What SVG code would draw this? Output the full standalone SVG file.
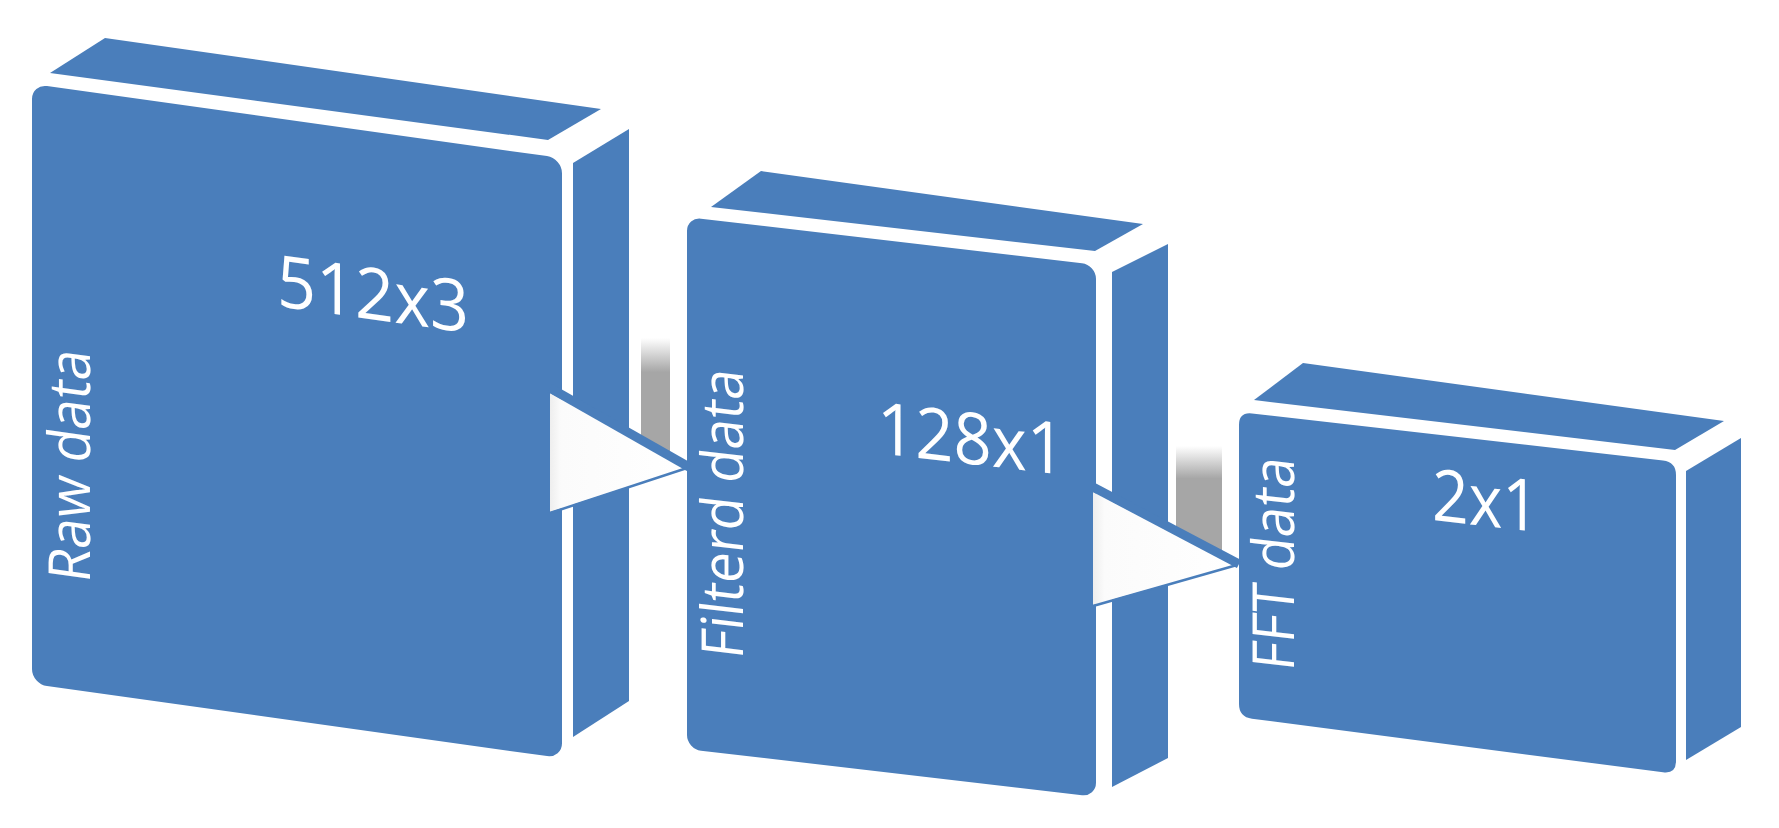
<svg xmlns="http://www.w3.org/2000/svg" width="1779" height="828" viewBox="0 0 1779 828">
  <defs>
    <linearGradient id="shade" x1="0" y1="0" x2="0" y2="1">
      <stop offset="0" stop-color="#a6a6a6" stop-opacity="0"/>
      <stop offset="0.28" stop-color="#a6a6a6" stop-opacity="1"/>
      <stop offset="1" stop-color="#a6a6a6" stop-opacity="1"/>
    </linearGradient>
    <linearGradient id="triFill" x1="0" y1="0" x2="1" y2="0">
      <stop offset="0" stop-color="#eeeeee"/>
      <stop offset="0.08" stop-color="#fbfbfb"/>
      <stop offset="1" stop-color="#ffffff"/>
    </linearGradient>
  </defs>
  <style>
    .face { fill: #4a7ebb; }
    .lbl { fill: #ffffff; font-family: "Open Sans", "Noto Sans", "Liberation Sans", sans-serif; }
    .dim { font-size: 72px; }
    .name { font-size: 58px; }
    .tri { fill: url(#triFill); }
    .edge-top { stroke: #4a7ebb; stroke-width: 9; stroke-linecap: butt; fill: none; }
    .edge-bot { stroke: #4a7ebb; stroke-width: 2.5; fill: none; }
  </style>
  <rect width="1779" height="828" fill="#ffffff"/>

  <g id="box-raw">
    <polygon class="face" points="50,73 105,38 601,109 548,140"/>
    <polygon class="face" points="573,163 629,129 629,701 573,737"/>
    <g transform="matrix(1,0.14,0,1,32,84)">
      <rect class="face" x="0" y="0" width="530" height="600" rx="15" ry="15"/>
    </g>
    <text class="lbl dim" transform="translate(277,306) skewY(8)" textLength="192" lengthAdjust="spacingAndGlyphs">512x3</text>
    <text class="lbl name" transform="translate(90,584) skewY(8) rotate(-90)" textLength="232" lengthAdjust="spacingAndGlyphs">Raw data</text>
  </g>

  <g id="box-filtered">
    <polygon class="face" points="711,207 761,171 1143,224 1095,251"/>
    <polygon class="face" points="1112,272 1168,244 1168,758 1112,787"/>
    <g transform="matrix(1,0.117,0,1,687,217)">
      <rect class="face" x="0" y="0" width="409" height="532" rx="14" ry="14"/>
    </g>
    <text class="lbl dim" transform="translate(877,453) skewY(6.7)" textLength="188" lengthAdjust="spacingAndGlyphs">128x1</text>
    <text class="lbl name" transform="translate(743,660) skewY(6.7) rotate(-90)" textLength="289" lengthAdjust="spacingAndGlyphs">Filterd data</text>
  </g>

  <g id="box-fft">
    <polygon class="face" points="1254,400 1303,363 1724,421 1675,450"/>
    <polygon class="face" points="1686,471 1741,438 1741,727 1686,760"/>
    <path class="face" d="M1239,425 Q1239,412 1252,413.5 L1663,460.5 Q1676,462 1676,475 L1676,761 Q1676,774 1663,772.3 L1252,718.7 Q1239,717 1239,704 Z"/>
    <text class="lbl dim" transform="translate(1432,520) skewY(6.5)" textLength="107" lengthAdjust="spacingAndGlyphs">2x1</text>
    <text class="lbl name" transform="translate(1294,672) skewY(6.5) rotate(-90)" textLength="213" lengthAdjust="spacingAndGlyphs">FFT data</text>
  </g>

  <g id="connectors">
    <rect x="641" y="338" width="29" height="122" fill="url(#shade)"/>
    <polygon class="tri" points="550,393 687,468 550,512"/>
    <line class="edge-top" x1="550" y1="388" x2="689" y2="467"/>
    <line class="edge-bot" x1="550" y1="513" x2="687" y2="468"/>

    <rect x="1176" y="446" width="46" height="116" fill="url(#shade)"/>
    <polygon class="tri" points="1093,492 1237,565 1093,605"/>
    <line class="edge-top" x1="1093" y1="487" x2="1239" y2="564"/>
    <line class="edge-bot" x1="1093" y1="606" x2="1237" y2="565"/>
  </g>
</svg>
